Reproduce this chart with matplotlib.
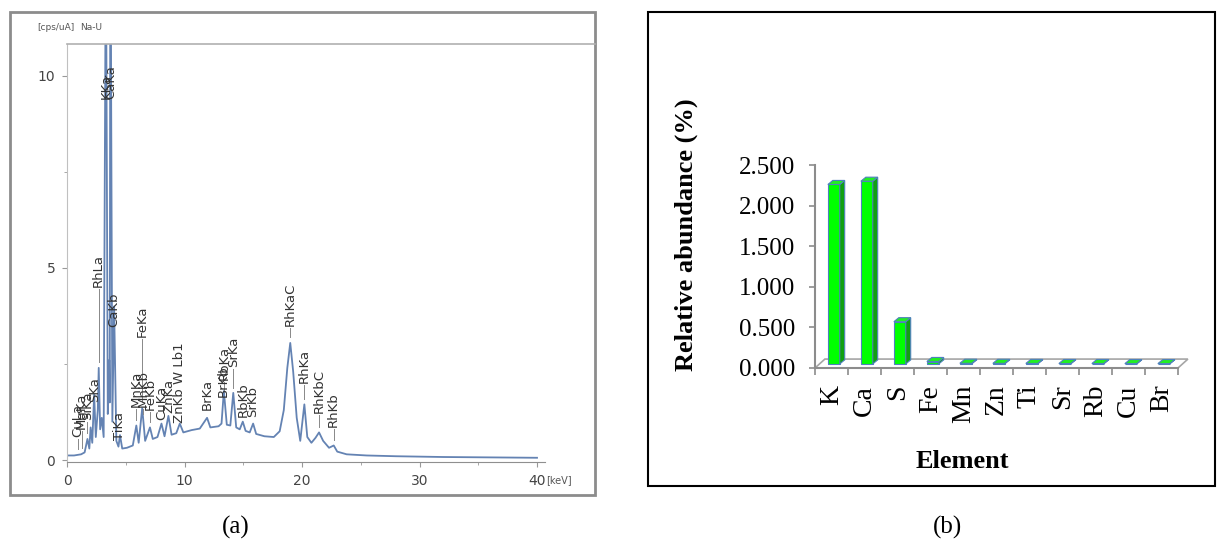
import matplotlib
matplotlib.use('Agg')
import matplotlib.pyplot as plt
from matplotlib import font_manager
from matplotlib.patches import Rectangle, Polygon
from matplotlib.lines import Line2D
from matplotlib.ticker import FormatStrFormatter
import numpy as np

# (a) XRF spectrum
energy_kev = [0.0, 0.6, 1.2, 1.5, 1.74, 1.9, 2.01, 2.15, 2.31, 2.45, 2.62, 2.70, 2.82, 2.96,
              3.12, 3.31, 3.47, 3.59, 3.64, 3.69, 3.86, 4.01, 4.2, 4.38, 4.51, 4.7, 5.1, 5.6,
              5.9, 6.1, 6.4, 6.65, 7.06, 7.3, 7.7, 8.04, 8.3, 8.63, 8.9, 9.3, 9.6, 9.9, 10.6,
              11.3, 11.92, 12.2, 12.9, 13.15, 13.35, 13.6, 13.9, 14.15, 14.4, 14.7, 14.96,
              15.2, 15.55, 15.84, 16.1, 16.8, 17.6, 18.1, 18.45, 18.75, 19.0, 19.25, 19.55,
              19.85, 20.2, 20.45, 20.8, 21.15, 21.45, 21.8, 22.3, 22.7, 23.0, 23.8, 25.5,
              28.0, 32.0, 36.0, 40.0]
counts_cps = [0.12, 0.12, 0.15, 0.2, 0.55, 0.3, 0.85, 0.45, 1.7, 0.6, 1.3, 2.4, 0.8, 1.1,
              0.6, 14.0, 1.2, 2.6, 1.5, 15.0, 1.0, 4.0, 0.5, 0.35, 0.65, 0.3, 0.32, 0.38,
              0.9, 0.45, 1.35, 0.5, 0.85, 0.55, 0.6, 0.95, 0.62, 1.15, 0.66, 0.7, 0.95, 0.72,
              0.78, 0.82, 1.1, 0.85, 0.88, 0.95, 1.8, 0.92, 0.9, 1.75, 0.85, 0.8, 1.0, 0.76,
              0.72, 0.95, 0.68, 0.62, 0.6, 0.75, 1.3, 2.4, 3.05, 2.3, 1.1, 0.5, 1.45, 0.6,
              0.45, 0.58, 0.72, 0.5, 0.32, 0.38, 0.22, 0.15, 0.12, 0.1, 0.08, 0.07, 0.06]

peak_names = ['CuLa', 'MgKa', 'SiKa', 'SKa', 'RhLa', 'KKa', 'CaKa', 'CaKb',
              'TiKa', 'MnKa', 'MnKb', 'FeKa', 'FeKb', 'CuKa', 'ZnKa', 'ZnKb W Lb1', 'BrKa',
              'BrKb', 'RbKa', 'SrKa', 'RbKb', 'SrKb', 'RhKaC', 'RhKa', 'RhKbC', 'RhKb']
peak_kev = [0.93, 1.25, 1.74, 2.31, 2.70, 3.31, 3.69, 4.01, 4.51, 5.90, 6.49,
            6.40, 7.06, 8.04, 8.63, 9.57, 11.92, 13.29, 13.39, 14.16, 14.96, 15.84, 19.0,
            20.2, 21.45, 22.7]
# where each peak label starts (cps/uA)
label_base = [0.6, 0.8, 1.05, 1.5, 4.5, 9.4, 9.4, 3.46, 0.52, 1.38, 1.38, 3.2,
              1.3, 1.05, 1.22, 0.96, 1.3, 1.64, 2.08, 2.42, 1.12, 1.12, 3.5, 2.0, 1.22, 0.86]

# (b) relative abundance
elements = ['K', 'Ca', 'S', 'Fe', 'Mn', 'Zn', 'Ti', 'Sr', 'Rb', 'Cu', 'Br']
abundance = [2.21, 2.25, 0.52, 0.03, 0.008, 0.007, 0.006, 0.005, 0.005, 0.004, 0.004]

W, H = 1217, 549
installed = {f.name for f in font_manager.fontManager.ttflist}
narrow = 'Liberation Sans Narrow' if 'Liberation Sans Narrow' in installed else 'DejaVu Sans'
serif = 'Liberation Serif'


def px_box(left, top, right, bottom):
    return [left / W, 1 - bottom / H, (right - left) / W, (bottom - top) / H]


fig = plt.figure(figsize=(W / 100, H / 100), dpi=100)

# ---------- left: spectrum ----------
fig.add_artist(Rectangle((10 / W, 1 - 495 / H), 585 / W, 483 / H, transform=fig.transFigure,
                         fill=False, ec='#8c8c8c', lw=2))
fig.add_artist(Line2D([67 / W, 595 / W], [1 - 44 / H] * 2, color='#b0b0b0', lw=1.2))
fig.text(37 / W, 1 - 28 / H, '[cps/uA]', fontsize=6.5, color='#555555', va='center', family=narrow)
fig.text(80 / W, 1 - 28 / H, 'Na-U', fontsize=6.5, color='#555555', va='center', family=narrow)

ax1 = fig.add_axes(px_box(67, 44, 545, 462))
ax1.plot(energy_kev, counts_cps, color='#6483b3', lw=1.3)
ax1.set_xlim(0, 40.68)
ax1.set_ylim(-0.05, 10.83)
for s in ['top', 'right']:
    ax1.spines[s].set_visible(False)
ax1.spines['left'].set_color('#c0c0c0')
ax1.spines['bottom'].set_color('#8f8f8f')
ax1.set_xticks([0, 10, 20, 30, 40])
ax1.set_xticks([5, 15, 25, 35], minor=True)
ax1.set_yticks([0, 5, 10])
ax1.set_yticks([2.5, 7.5], minor=True)
ax1.tick_params(which='both', direction='out', color='#999999', labelcolor='#444444',
                labelsize=10, pad=5)
ax1.tick_params(which='minor', length=2.5)
for t in ax1.get_xticklabels() + ax1.get_yticklabels():
    t.set_family(narrow)
ax1.text(40.75, -0.52, '[keV]', fontsize=7, color='#555555', va='center', family=narrow,
         clip_on=False)

for name, kev, base in zip(peak_names, peak_kev, label_base):
    top = np.interp(kev, energy_kev, counts_cps)
    if base - top > 0.3:
        ax1.plot([kev, kev], [top + 0.15, base - 0.05], color='#888888', lw=0.7)
    ax1.text(kev, base, name, rotation=90, ha='center', va='bottom', fontsize=9.5,
             color='#333333', family=narrow)

fig.text(236 / W, 1 - 527 / H, '(a)', fontsize=18, family=serif, ha='center', va='center')

# ---------- right: 3D-style column chart ----------
fig.add_artist(Rectangle((648 / W, 1 - 486 / H), 567 / W, 474 / H, transform=fig.transFigure,
                         fill=False, ec='black', lw=1.5))

ax2 = fig.add_axes(px_box(815, 165, 1178, 368))
x = np.arange(len(elements))
ax2.set_xlim(-0.5, len(elements) - 0.5)
ax2.set_ylim(0, 2.5)

# floor with depth
fdx, fdy = 0.3, 0.11
x0, x1 = -0.5, len(elements) - 0.5
ax2.add_patch(Polygon([(x0, 0), (x1, 0), (x1 + fdx, fdy), (x0 + fdx, fdy)], closed=True,
                      fc='white', ec='#a6a6a6', lw=1.2, clip_on=False, zorder=1))

bdx, bdy = 0.15, 0.05
bw, shift, base = 0.36, 0.07, 0.05
ax2.bar(x + shift, abundance, width=bw, bottom=base, color='#00ff00', edgecolor='#4f81bd',
        lw=0.8, zorder=3)
for xi, v in zip(x, abundance):
    xl, xr = xi + shift - bw / 2, xi + shift + bw / 2
    yt = base + v
    ax2.add_patch(Polygon([(xr, base), (xr + bdx, base + bdy), (xr + bdx, yt + bdy), (xr, yt)],
                          closed=True, fc='#10a010', ec='#4f81bd', lw=0.8, zorder=3))
    ax2.add_patch(Polygon([(xl, yt), (xl + bdx, yt + bdy), (xr + bdx, yt + bdy), (xr, yt)],
                          closed=True, fc='#22ee22', ec='#4f81bd', lw=0.8, zorder=3))

for s in ['top', 'right']:
    ax2.spines[s].set_visible(False)
for s in ['left', 'bottom']:
    ax2.spines[s].set_color('#8c8c8c')
    ax2.spines[s].set_linewidth(1.5)
    ax2.spines[s].set_zorder(4)

ax2.set_yticks(np.arange(0, 2.51, 0.5))
ax2.yaxis.set_major_formatter(FormatStrFormatter('%.3f'))
ax2.set_xticks(x)
ax2.set_xticklabels(elements, rotation=90, va='top', ha='center')
ax2.set_xticks(np.arange(-0.5, len(elements), 1.0), minor=True)
ax2.tick_params(axis='x', which='major', length=0, pad=12)
ax2.tick_params(axis='x', which='minor', length=5, color='#8c8c8c', width=1.2)
ax2.tick_params(axis='y', length=4, color='#8c8c8c', width=1.2, pad=10)
for t in ax2.get_yticklabels():
    t.set_family(serif)
    t.set_fontsize(18)
for t in ax2.get_xticklabels():
    t.set_family(serif)
    t.set_fontsize(20)

fig.text(686 / W, 1 - 235 / H, 'Relative abundance (%)', rotation=90, fontsize=19,
         fontweight='bold', family=serif, ha='center', va='center')
fig.text(962 / W, 1 - 461 / H, 'Element', fontsize=19, fontweight='bold', family=serif,
         ha='center', va='center')
fig.text(948 / W, 1 - 527 / H, '(b)', fontsize=18, family=serif, ha='center', va='center')

fig.savefig('out.png', dpi=100)
